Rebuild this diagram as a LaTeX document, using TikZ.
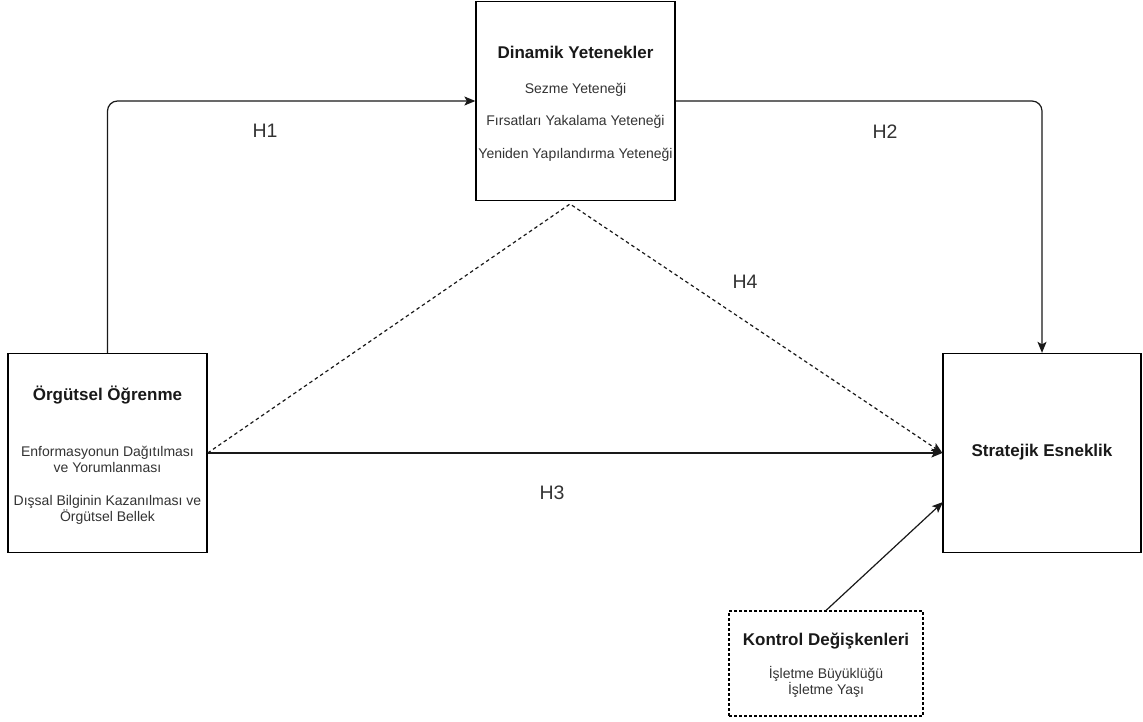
\documentclass[tikz,border=0pt]{standalone}
\usepackage{fontspec}
\setmainfont{Liberation Sans}
\usetikzlibrary{arrows.meta,calc}
\definecolor{bodytext}{HTML}{333333}
\begin{document}
\begin{tikzpicture}[x=1pt,y=-1pt,
  box/.style={draw=black,line width=1.3pt,fill=white,inner sep=0pt,
    minimum width=199pt,minimum height=199pt},
  ctlbox/.style={draw=black,line width=1.1pt,dashed,dash pattern=on 3pt off 2pt,
    inner sep=0pt,minimum width=194pt,minimum height=105pt},
  title/.style={font=\fontsize{17}{20}\selectfont\bfseries,text=black!90,inner sep=0pt},
  body/.style={font=\fontsize{14}{16}\selectfont,text=bodytext,align=center,inner sep=0pt},
  hlabel/.style={font=\fontsize{19.5}{22}\selectfont,text=bodytext,inner sep=0pt},
  link/.style={draw=black!90,line width=1.2pt,-{Stealth[length=11pt,width=9pt,inset=2.5pt]}},
  dlink/.style={link,dash pattern=on 3.5pt off 3pt},
]
\useasboundingbox (0,0) rectangle (1143,722);

% boxes
\node[box] (din) at (575.5,101) {};
\node[box] (org) at (107.5,453) {};
\node[box,minimum width=198pt] (str) at (1042,453) {};
\node[ctlbox] (ktl) at (826,663.5) {};

% box texts
\node[title] (dinT) at (575.5,52) {Dinamik Yetenekler};
\node[body] (dinA) at (575.5,90) {Sezme Yeteneği};
\node[body] (dinB) at (575.5,122) {Fırsatları Yakalama Yeteneği};
\node[body] (dinC) at (575.5,155) {Yeniden Yapılandırma Yeteneği};

\node[title] (orgT) at (107.5,395) {Örgütsel Öğrenme};
\node[body] (orgA) at (107.5,459) {Enformasyonun Dağıtılması\\ve Yorumlanması};
\node[body] (orgB) at (107.5,509.5) {Dışsal Bilginin Kazanılması ve\\Örgütsel Bellek};

\node[title] (strT) at (1042,452) {Stratejik Esneklik};

\node[title] (ktlT) at (826,641) {Kontrol Değişkenleri};
\node[body] (ktlA) at (826,682) {İşletme Büyüklüğü\\İşletme Yaşı};

% connectors
\coordinate (apex) at (570,204);
\coordinate (kin) at (943,502);
\draw[link,rounded corners=10pt] (org.north) |- (din.west);
\draw[link,rounded corners=10pt] (din.east) -| (str.north);
\draw[dlink] (org.east) -- (apex) -- (str.west);
\draw[link] (org.east) -- (str.west);
\draw[link] (ktl.north) -- (kin);

% hypothesis labels
\node[hlabel] (h1) at (265,131) {H1};
\node[hlabel] (h2) at (885,132) {H2};
\node[hlabel] (h4) at (745,282) {H4};
\node[hlabel] (h3) at (552,493) {H3};
\end{tikzpicture}
\end{document}
